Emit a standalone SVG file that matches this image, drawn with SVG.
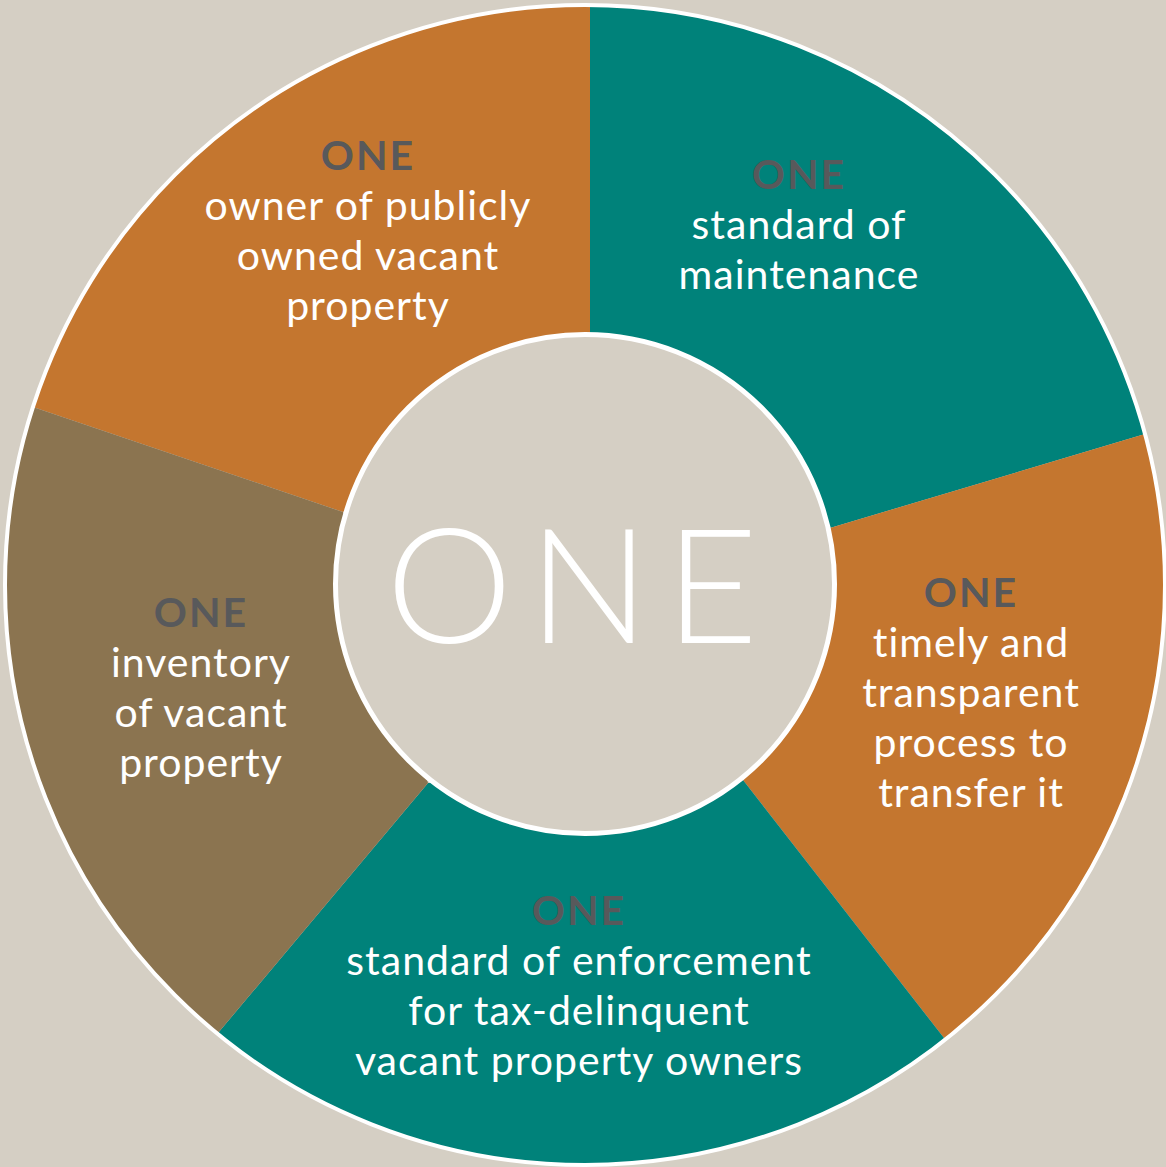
<svg xmlns="http://www.w3.org/2000/svg" width="1166" height="1167" viewBox="0 0 1166 1167">
<style>
.lbl{font-family:Lato,"Open Sans","Liberation Sans",sans-serif;font-size:41px;letter-spacing:1px;fill:#ffffff;text-anchor:middle}
.one{font-family:Lato,"Open Sans","Liberation Sans",sans-serif;font-size:41px;letter-spacing:2px;font-weight:bold;fill:#58595b;text-anchor:middle}
.big{font-family:Lato,"Open Sans","Liberation Sans",sans-serif;font-size:160px;font-weight:300;fill:#ffffff;text-anchor:middle;letter-spacing:16px}
</style>
<defs>
<clipPath id="outer"><circle cx="585" cy="585" r="580"/></clipPath>
</defs>
<rect width="1166" height="1167" fill="#d5cfc4"/>
<g id="segments" clip-path="url(#outer)">
<g id="seg-owner"><polygon points="590,-20 590,333 343,512 33,407 -100,365 -100,-20" fill="#c4762f"/></g>
<g id="seg-maintenance"><polygon points="590,-20 590,333 830,528 1145,434 1260,400 1260,-20" fill="#00827a"/></g>
<g id="seg-transfer"><polygon points="1145,434 1260,400 1260,1200 1020,1135 944,1038 743,780 830,528" fill="#c4762f"/></g>
<g id="seg-enforcement"><polygon points="944,1038 1020,1135 1020,1200 150,1200 160,1102 218,1033 428,783 743,780" fill="#00827a"/></g>
<g id="seg-inventory"><polygon points="218,1033 160,1102 -100,1200 -100,365 33,407 343,512 428,783" fill="#8b7450"/></g>
</g>
<g id="rings">
<circle cx="585" cy="585" r="580" fill="none" stroke="#ffffff" stroke-width="4"/>
<circle id="center" cx="585" cy="584" r="249.5" fill="#d5cfc4" stroke="#ffffff" stroke-width="5"/>
</g>
<g id="connectors"></g>
<g id="node-center"><text class="big" x="580" y="643">ONE</text></g>
<g id="node-owner">
<text class="one" x="368" y="170">ONE</text>
<text class="lbl" x="368" y="220">owner of publicly</text>
<text class="lbl" x="368" y="270">owned vacant</text>
<text class="lbl" x="368" y="320">property</text>
</g>
<g id="node-maintenance">
<text class="one" x="799" y="189">ONE</text>
<text class="lbl" x="799" y="239">standard of</text>
<text class="lbl" x="799" y="289">maintenance</text>
</g>
<g id="node-transfer">
<text class="one" x="971" y="607">ONE</text>
<text class="lbl" x="971" y="657">timely and</text>
<text class="lbl" x="971" y="707">transparent</text>
<text class="lbl" x="971" y="757">process to</text>
<text class="lbl" x="971" y="807">transfer it</text>
</g>
<g id="node-enforcement">
<text class="one" x="579" y="925">ONE</text>
<text class="lbl" x="579" y="975">standard of enforcement</text>
<text class="lbl" x="579" y="1025">for tax-delinquent</text>
<text class="lbl" x="579" y="1075">vacant property owners</text>
</g>
<g id="node-inventory">
<text class="one" x="201" y="627">ONE</text>
<text class="lbl" x="201" y="677">inventory</text>
<text class="lbl" x="201" y="727">of vacant</text>
<text class="lbl" x="201" y="777">property</text>
</g>
</svg>
